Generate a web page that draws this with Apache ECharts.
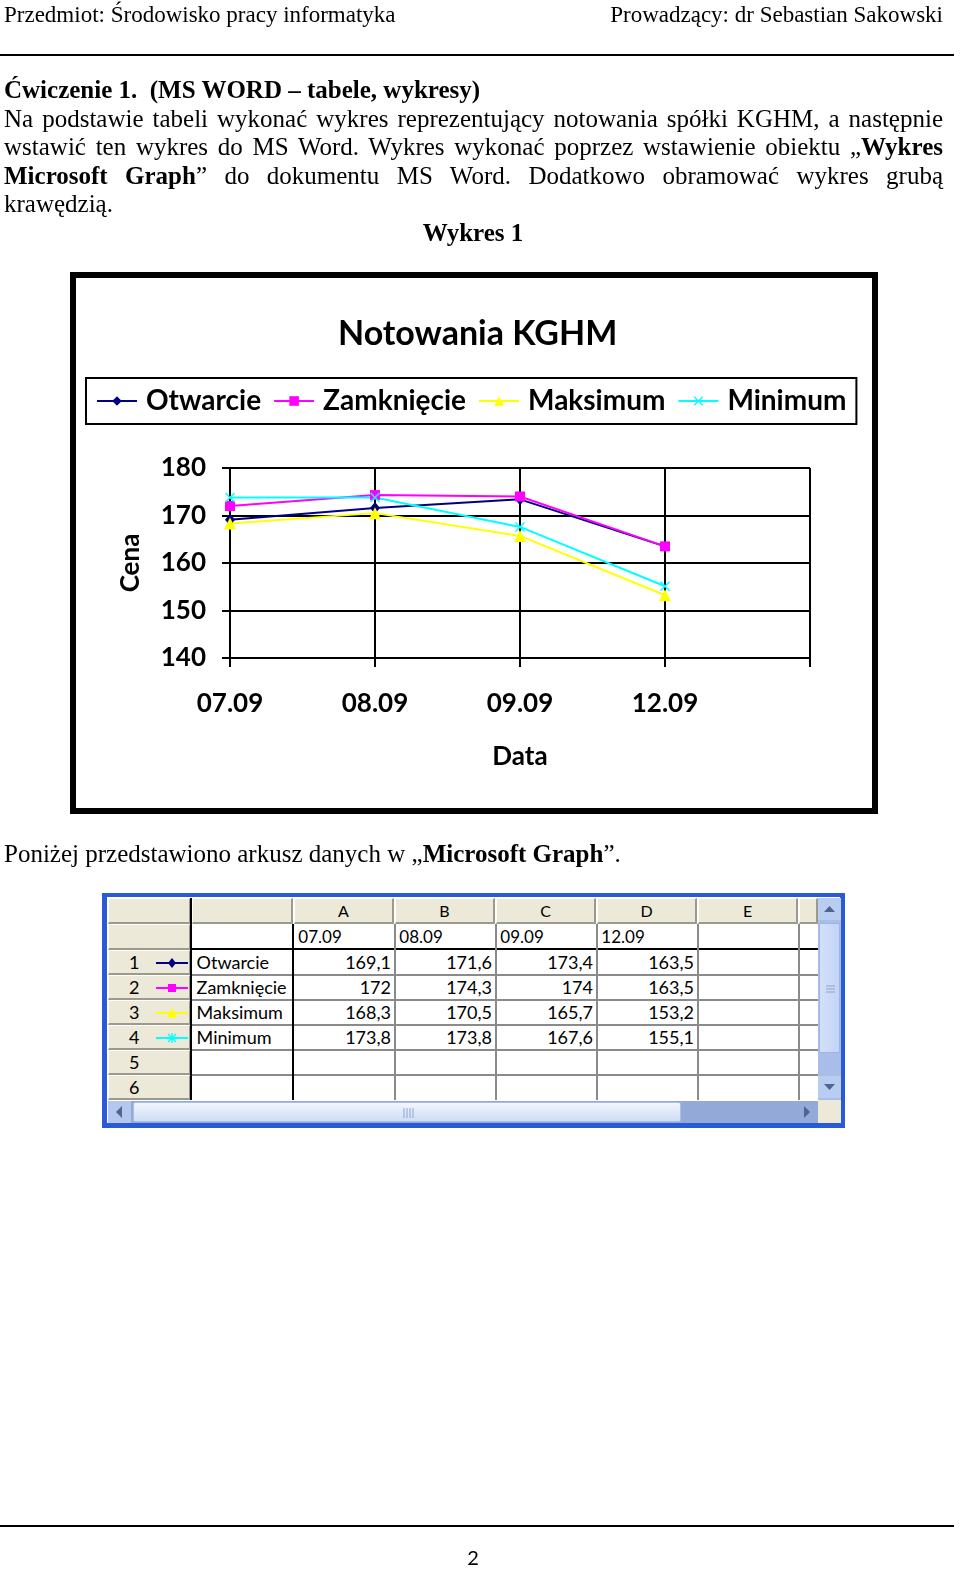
<!DOCTYPE html>
<html><head><meta charset="utf-8">
<script src="https://cdn.jsdelivr.net/npm/echarts@6/dist/echarts.min.js"></script>
<style>
body{margin:0;width:960px;height:1576px;position:relative;background:#fff;overflow:hidden}
#chart{position:absolute;left:0;top:0;width:960px;height:1576px}
.t{position:absolute;font-family:"Liberation Serif","Times New Roman",serif;font-size:25px;color:#000;white-space:nowrap;line-height:24px;height:24px}
.j{text-align:justify;text-align-last:justify;white-space:normal;width:939px;left:4px}
.rule{position:absolute;left:0;width:954px;height:2px;background:#000}
.c{position:absolute;box-sizing:border-box;font-family:Lato,"Noto Sans",sans-serif;font-size:18px;color:#000;line-height:25px;overflow:hidden;white-space:nowrap}
.h{background:#ece9d8;border-top:1px solid #fff;border-left:1px solid #fff;border-right:2px solid #9d9a8c;border-bottom:2px solid #9d9a8c;text-align:center}
</style></head><body>
<div id="chart"></div>

<div class="t" style="left:4px;top:3px;font-size:23px">Przedmiot: Środowisko pracy informatyka</div>
<div class="t" style="right:17px;top:3px;font-size:23px">Prowadzący: dr Sebastian Sakowski</div>
<div class="rule" style="top:54px"></div>

<div class="t" style="left:4px;top:78px;font-weight:bold">Ćwiczenie 1.&nbsp; (MS WORD – tabele, wykresy)</div>
<div class="t j" style="top:107px">Na podstawie tabeli wykonać wykres reprezentujący notowania spółki KGHM, a następnie</div>
<div class="t j" style="top:135px">wstawić ten wykres do MS Word. Wykres wykonać poprzez wstawienie obiektu „<b>Wykres</b></div>
<div class="t j" style="top:164px"><b>Microsoft Graph</b>” do dokumentu MS Word. Dodatkowo obramować wykres grubą</div>
<div class="t" style="left:4px;top:192px">krawędzią.</div>
<div class="t" style="left:0;width:946px;text-align:center;top:221px;font-weight:bold">Wykres 1</div>

<div class="t" style="left:4px;top:842px">Poniżej przedstawiono arkusz danych w „<b>Microsoft Graph</b>”.</div>

<div id="sheet"></div>

<div class="rule" style="top:1525px"></div>
<div class="t" style="left:0;width:946px;text-align:center;top:1545px;font-family:Lato,sans-serif;font-size:20px">2</div>

<script>
// ---- data ----
const categories = ['07.09', '08.09', '09.09', '12.09'];
const seriesNames = ['Otwarcie', 'Zamknięcie', 'Maksimum', 'Minimum'];
const otwarcie   = [169.1, 171.6, 173.4, 163.5];
const zamkniecie = [172, 174.3, 174, 163.5];
const maksimum   = [168.3, 170.5, 165.7, 153.2];
const minimum    = [173.8, 173.8, 167.6, 155.1];
const columnLetters = ['A', 'B', 'C', 'D', 'E'];
const rowNumbers = ['1', '2', '3', '4', '5', '6'];
const yMin = 140, yMax = 180, yStep = 10;

const seriesData = [otwarcie, zamkniecie, maksimum, minimum];
const colors = ['#000080', '#ff00ff', '#ffff00', '#00ffff'];
const starPath = 'path://M0,1L1,0L5,4L9,0L10,1L6,5L10,9L9,10L5,6L1,10L0,9L4,5Z';
const symbols = ['diamond', 'rect', 'triangle', starPath];
const symSizes = [[10, 12], 10, 12, 10];

const FONT = 'Lato';
const bold = (size) => ({fontFamily: FONT, fontWeight: 'bold', fontSize: size, color: '#000'});

const chart = echarts.init(document.getElementById('chart'), null, {renderer: 'canvas'});
chart.setOption({
  animation: false,
  backgroundColor: 'transparent',
  title: {text: 'Notowania KGHM', left: 333, top: 312, textStyle: bold(34)},
  legend: {
    data: seriesNames, left: 86, top: 378, padding: [9, 10], itemGap: 12,
    itemWidth: 40, itemHeight: 12, borderColor: '#000', borderWidth: 2,
    textStyle: Object.assign(bold(28), {padding: [0, 0, 0, 4]})
  },
  grid: {left: 230, right: 150, top: 468, bottom: 918, containLabel: false},
  xAxis: {
    type: 'category', data: categories.concat(['']), boundaryGap: false,
    axisLine: {lineStyle: {color: '#000', width: 2}},
    axisTick: {show: true, length: 9, lineStyle: {color: '#000', width: 2}},
    axisLabel: Object.assign(bold(26), {margin: 33, interval: 0}),
    splitLine: {show: true, lineStyle: {color: '#000', width: 2}},
    name: 'Data', nameLocation: 'middle', nameGap: 86, nameTextStyle: bold(26)
  },
  yAxis: {
    type: 'value', min: yMin, max: yMax, interval: yStep,
    axisLine: {show: true, lineStyle: {color: '#000', width: 2}},
    axisTick: {show: true, length: 8, lineStyle: {color: '#000', width: 2}},
    axisLabel: Object.assign(bold(26), {margin: 24}),
    splitLine: {show: true, lineStyle: {color: '#000', width: 2}},
    name: 'Cena', nameLocation: 'middle', nameRotate: 90, nameGap: 86, nameTextStyle: bold(26)
  },
  graphic: [{type: 'rect', silent: true, shape: {x: 73, y: 275, width: 802, height: 536},
             style: {fill: null, stroke: '#000', lineWidth: 6}}],
  series: seriesNames.map((n, i) => ({
    name: n, type: 'line', data: seriesData[i], color: colors[i],
    symbol: symbols[i], symbolSize: symSizes[i], showSymbol: true,
    lineStyle: {width: 2, color: colors[i]}, itemStyle: {color: colors[i]}
  }))
});

// ---- datasheet (Microsoft Graph) ----
const sheet = document.getElementById('sheet');
function box(x, y, w, h, cls, html, st) {
  const d = document.createElement('div');
  d.className = 'c ' + (cls || '');
  d.style.cssText = `left:${x}px;top:${y}px;width:${w}px;height:${h}px;` + (st || '');
  d.innerHTML = html || '';
  sheet.appendChild(d);
  return d;
}
const fmt = v => String(v).replace('.', ',');
const colX = [192, 294, 395, 496, 597, 698, 799];   // label col start, A..E, end
const rowY = [924, 950, 975, 1000, 1025, 1050, 1075, 1100]; // date row, rows1..6, end
// outer frame
box(102, 893, 743, 235, '', '', 'border:5px solid #2a5bd7;border-top-width:4px;background:#fff');
// header row
box(108, 898, 83, 26, 'h');
box(192, 898, 101, 26, 'h');
columnLetters.forEach((L, i) => box(colX[i + 1], 898, colX[i + 2] - colX[i + 1] - 1, 26, 'h', L, 'font-size:16px;line-height:24px'));
box(799, 898, 19, 26, 'h');
// row header column
box(108, 924, 83, 26, 'h');
rowNumbers.forEach((r, i) => {
  let icon = '';
  if (i < 4) {
    const c = colors[i];
    const mk = [
      `<path d="M16,1L20,6L16,11L12,6Z" fill="${c}"/>`,
      `<rect x="12" y="2" width="8" height="8" fill="${c}"/>`,
      `<path d="M16,1L21,11L11,11Z" fill="${c}"/>`,
      `<path d="M12,2L20,10M20,2L12,10M16,1V11" stroke="${c}" stroke-width="1.3"/>`
    ][i];
    icon = `<svg width="32" height="12" style="position:absolute;left:47px;top:6px"><line x1="0" y1="6" x2="32" y2="6" stroke="${c}" stroke-width="2"/>${mk}</svg>`;
  }
  box(108, rowY[i + 1], 83, rowY[i + 2] - rowY[i + 1], 'h', `<span style="position:absolute;left:20px;top:-1px">${r}</span>` + icon, 'text-align:left');
});
// cells area
box(192, 924, 626, 176, '', '', 'background:#fff');
// date row
categories.forEach((d, i) => box(colX[i + 1], 924, colX[i + 2] - colX[i + 1], 25, '', '&nbsp;' + d, 'font-size:17px'));
// labels + values
seriesNames.forEach((n, r) => {
  box(192, rowY[r + 1], 101, rowY[r + 2] - rowY[r + 1], '', '&nbsp;' + n);
  seriesData[r].forEach((v, c) => box(colX[c + 1], rowY[r + 1], colX[c + 2] - colX[c + 1] - 4, rowY[r + 2] - rowY[r + 1], '', fmt(v), 'text-align:right'));
});
// grid lines
for (let i = 2; i < rowY.length - 1; i++) box(192, rowY[i] - 1, 626, 2, '', '', 'background:#8a8a8a');
box(192, 948, 626, 2, '', '', 'background:#000');
for (let i = 2; i < colX.length; i++) box(colX[i] - 1, 924, 2, 176, '', '', 'background:#8a8a8a');
box(292, 924, 2, 176, '', '', 'background:#000');
box(190, 898, 2, 202, '', '', 'background:#000');
// vertical scrollbar
box(818, 898, 23, 202, '', '', 'background:#a8bde8');
box(818, 898, 23, 22, '', '<svg width="23" height="22"><path d="M6,14L11.5,8L17,14Z" fill="#4d6591"/></svg>', 'background:#b9cdf2');
box(819, 923, 21, 130, '', '<svg width="21" height="130"><path d="M6,62H15M6,65H15M6,68H15" stroke="#8ea3cc"/></svg>', 'background:linear-gradient(90deg,#d4e0fa,#c3d4f6);border:1px solid #9fb6e4;border-radius:2px');
box(818, 1076, 23, 22, '', '<svg width="23" height="22"><path d="M6,8L11.5,14L17,8Z" fill="#4d6591"/></svg>', 'background:#b9cdf2');
// horizontal scrollbar
box(108, 1101, 710, 22, '', '', 'background:#93aad9');
box(108, 1101, 23, 22, '', '<svg width="23" height="22"><path d="M14,5L8,11L14,17Z" fill="#4d6591"/></svg>', 'background:#b4c7ee');
box(133, 1102, 548, 20, '', '<svg width="548" height="20"><path d="M270,5V15M273,5V15M276,5V15M279,5V15" stroke="#8ea3cc"/></svg>', 'background:linear-gradient(180deg,#f2f6fd,#cfdcf5);border:1px solid #a9bde6;border-radius:2px');
box(795, 1101, 23, 22, '', '<svg width="23" height="22"><path d="M9,5L15,11L9,17Z" fill="#4d6591"/></svg>', '');
box(818, 1100, 23, 23, '', '', 'background:#ece9d8');
</script>
</body></html>
